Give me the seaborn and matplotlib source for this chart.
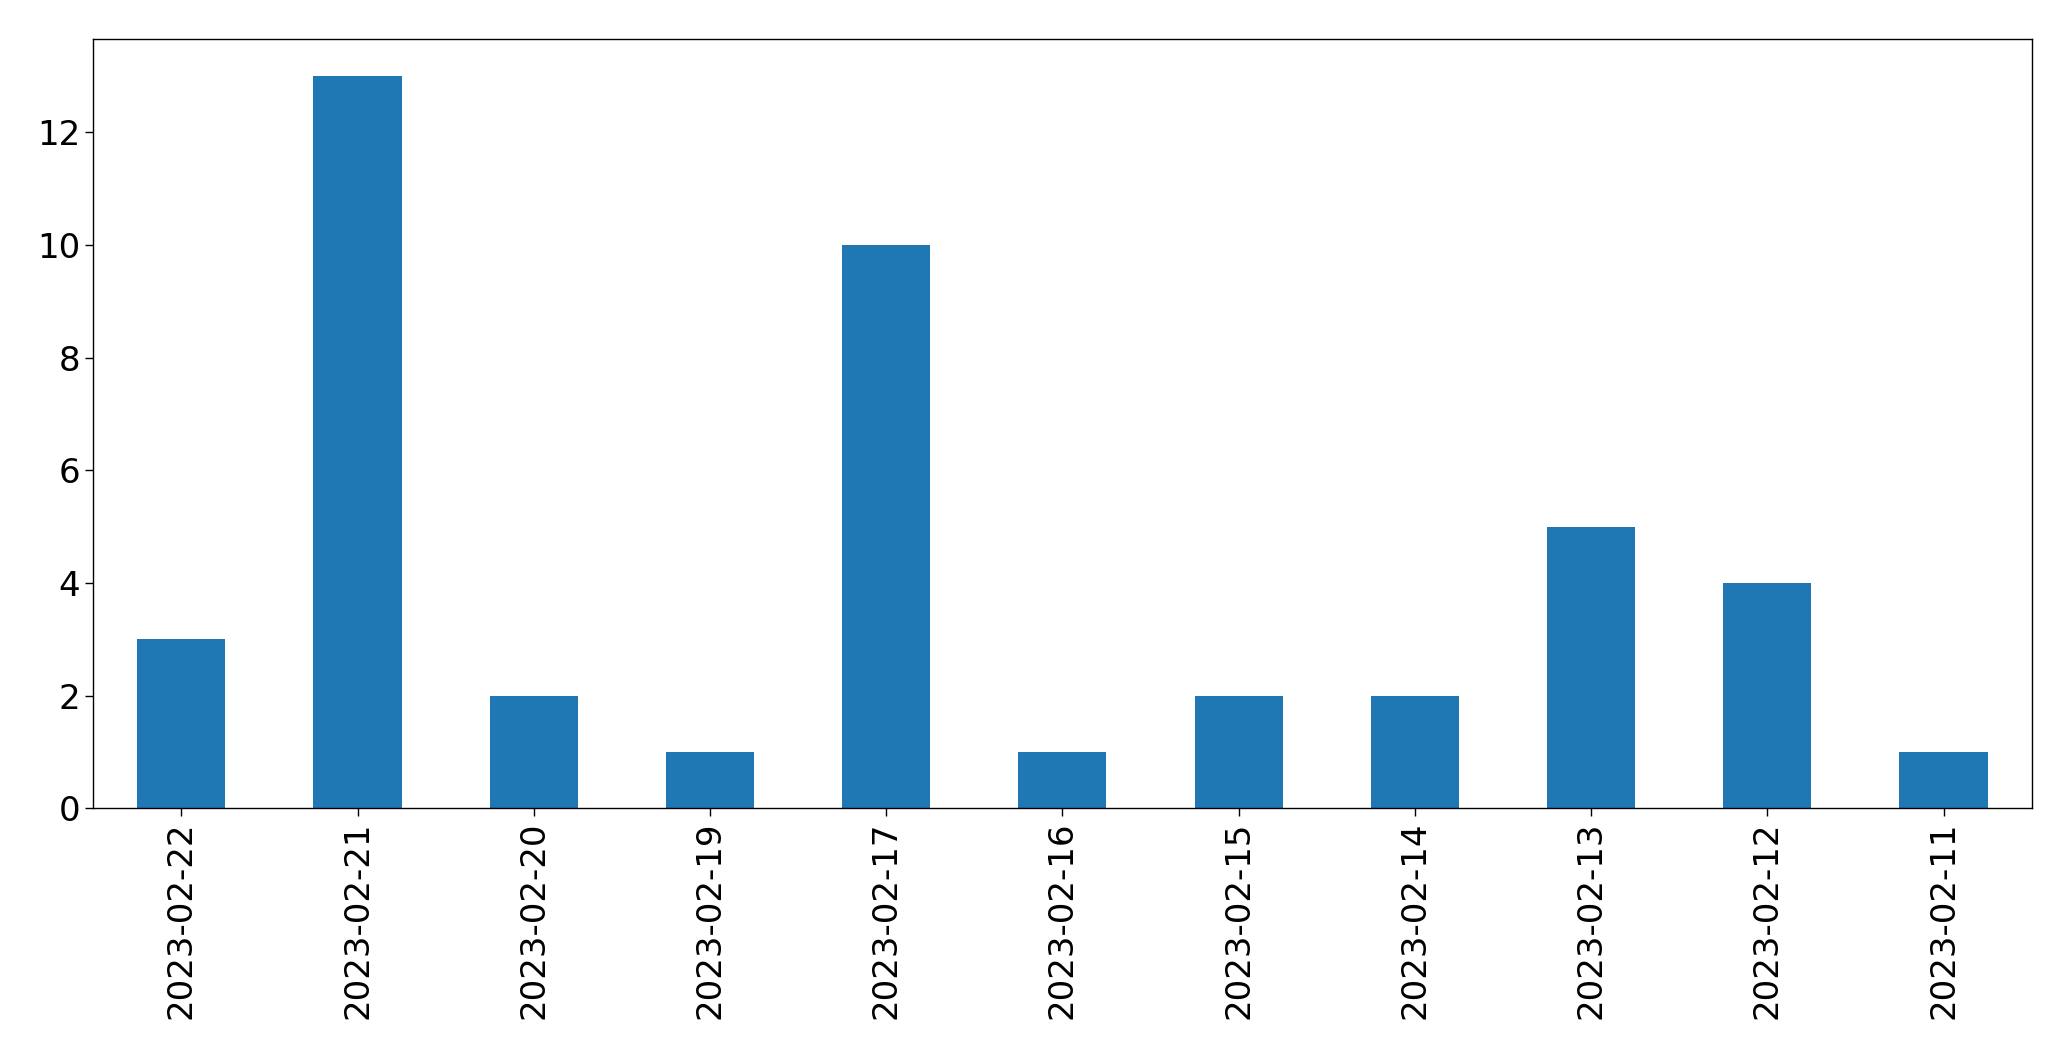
import matplotlib
matplotlib.use("Agg")
import matplotlib.pyplot as plt
import seaborn as sns

# dates (as shown, newest first) and counts per day
dates = ['2023-02-22', '2023-02-21', '2023-02-20', '2023-02-19', '2023-02-17',
         '2023-02-16', '2023-02-15', '2023-02-14', '2023-02-13', '2023-02-12',
         '2023-02-11']
counts = [3, 13, 2, 1, 10, 1, 2, 2, 5, 4, 1]

sns.set_style("white")
plt.rcParams['font.family'] = ['DejaVu Sans']

fig, ax = plt.subplots(figsize=(20.71, 10.61), dpi=100)
sns.barplot(x=dates, y=counts, color='#1f77b4', saturation=1, width=0.5,
            linewidth=0, ax=ax)

ax.set_xlim(-0.5, len(dates) - 0.5)
ax.tick_params(axis='both', labelsize=24.5, length=6, width=1, direction='out',
               bottom=True, left=True, colors='black')
ax.tick_params(axis='x', rotation=90)
for s in ax.spines.values():
    s.set_color('black')
    s.set_linewidth(1)

fig.subplots_adjust(left=0.045, right=0.981, top=0.963, bottom=0.238)
fig.savefig("out.png", dpi=100)
